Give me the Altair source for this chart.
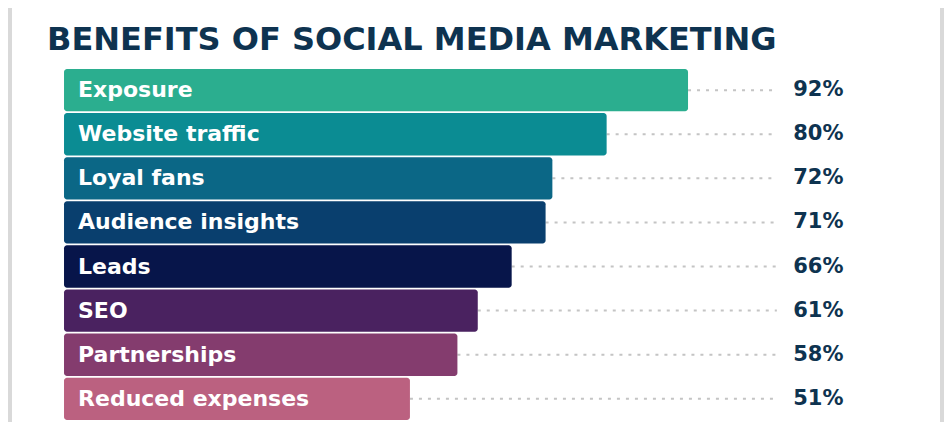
import altair as alt
import pandas as pd

categories = ["Exposure", "Website traffic", "Loyal fans", "Audience insights",
              "Leads", "SEO", "Partnerships", "Reduced expenses"]
values = [92, 80, 72, 71, 66, 61, 58, 51]
labels = ["92%", "80%", "72%", "71%", "66%", "61%", "58%", "51%"]
colors = ["#2bae8f", "#0b8c93", "#0b6786", "#093f6e",
          "#07154a", "#4a2260", "#843c6e", "#bb6180"]

df = pd.DataFrame({"category": categories, "value": values, "label": labels})

FONT = "DejaVu Sans"
NAVY = "#0e3350"

xscale = alt.Scale(domain=[-7.67, 129.15], nice=False, zero=False)
yscale = alt.Scale(domain=categories, paddingInner=0.04,
                   paddingOuter=0.714, align=0.968)

Y = alt.Y("category:N", scale=yscale, axis=None, sort=categories)

base = alt.Chart(df)

dots = base.mark_rule(color="#c4c4c4", strokeWidth=2, strokeDash=[3, 6]).encode(
    x=alt.X("value:Q", scale=xscale, axis=None),
    x2=alt.datum(105.1),
    y=Y,
)

bars = base.mark_bar(cornerRadiusEnd=3).encode(
    x=alt.X("value:Q", scale=xscale, axis=None),
    x2=alt.datum(0),
    y=Y,
    color=alt.Color("category:N", scale=alt.Scale(domain=categories, range=colors), legend=None),
)

names = base.mark_text(align="left", baseline="middle", dx=14, color="white",
                       font=FONT, fontWeight="bold", fontSize=22).encode(
    x=alt.datum(0),
    y=Y,
    text="category:N",
)

pcts = base.mark_text(align="left", baseline="middle", color=NAVY,
                      font=FONT, fontWeight="bold", fontSize=21).encode(
    x=alt.datum(107.5),
    y=Y,
    text="label:N",
)

chart = alt.layer(dots, bars, names, pcts).properties(
    width=928,
    height=414,
    autosize=alt.AutoSizeParams(type="none"),
    padding={"left": 4, "right": 4, "top": 0, "bottom": 0},
    background="#d9d9d9",
    title=alt.TitleParams(
        "BENEFITS OF SOCIAL MEDIA MARKETING",
        anchor="start", frame="group", orient="top",
        offset=-42, baseline="alphabetic", dx=35, dy=32,
        font=FONT, fontWeight="bold", fontSize=32, color=NAVY,
    ),
).configure_view(fill="white", stroke=None)

chart.save("out.html", embed_options={"renderer": "svg", "actions": False})
